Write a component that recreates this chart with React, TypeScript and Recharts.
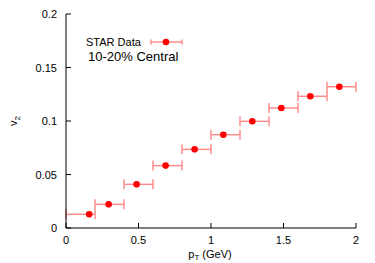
import React from 'react';
import { ScatterChart, Scatter, XAxis, YAxis, ErrorBar } from 'recharts';

// pT bin centres (GeV) and v2
const ptValues = [0.16, 0.294, 0.487, 0.687, 0.887, 1.085, 1.285, 1.485, 1.685, 1.885];
const v2Values = [0.0128, 0.0221, 0.0408, 0.0583, 0.0735, 0.0872, 0.0997, 0.1121, 0.1231, 0.132];
// bin edges -> horizontal error bars
const binLow = [0, 0.2, 0.4, 0.6, 0.8, 1.0, 1.2, 1.4, 1.6, 1.8];
const binHigh = [0.2, 0.4, 0.6, 0.8, 1.0, 1.2, 1.4, 1.6, 1.8, 2.0];

const xTicks = [0, 0.5, 1, 1.5, 2];
const yTicks = [0, 0.05, 0.1, 0.15, 0.2];

const FONT = '"Liberation Sans", Arial, sans-serif';
const RED = '#ff0000';
const ERR = '#ff8c8c';

const points = ptValues.map((x, i) => ({
    x,
    y: v2Values[i],
    xErr: [x - binLow[i], binHigh[i] - x],
}));

// gnuplot-style ticks: marks point inward, labels outside
const BottomTick = (props: any) => {
    const { x, y, payload } = props;
    return (
        <g>
            <line x1={x} y1={y} x2={x} y2={y - 5} stroke="#000" />
            <text x={x} y={y + 16} textAnchor="middle" fontSize={11} fill="#000" fontFamily={FONT}>
                {String(payload.value)}
            </text>
        </g>
    );
};

const LeftTick = (props: any) => {
    const { x, y, payload } = props;
    return (
        <g>
            <line x1={x} y1={y} x2={x + 5} y2={y} stroke="#000" />
            <text x={x - 9} y={y + 4} textAnchor="end" fontSize={11} fill="#000" fontFamily={FONT}>
                {String(payload.value)}
            </text>
        </g>
    );
};

const TopTick = (props: any) => {
    const { x, y } = props;
    return <line x1={x} y1={y} x2={x} y2={y + 5} stroke="#000" />;
};

const RightTick = (props: any) => {
    const { x, y } = props;
    return <line x1={x} y1={y} x2={x - 5} y2={y} stroke="#000" />;
};

const Dot = (props: any) => <circle cx={props.cx} cy={props.cy} r={3.3} fill={RED} />;

export default function App() {
    return (
        <div style={{ position: 'absolute', left: 0, top: 0, width: 375, height: 263, background: '#fff', fontFamily: FONT }}>
            <ScatterChart width={375} height={263} margin={{ top: 14, right: 19, bottom: 0, left: 0 }}>
                <XAxis
                    xAxisId="b"
                    type="number"
                    dataKey="x"
                    domain={[0, 2]}
                    ticks={xTicks}
                    allowDataOverflow
                    height={35}
                    tickSize={0}
                    tickMargin={0}
                    tickLine={false}
                    axisLine={{ stroke: '#000' }}
                    tick={<BottomTick />}
                    interval={0}
                />
                <XAxis
                    xAxisId="t"
                    orientation="top"
                    type="number"
                    dataKey="x"
                    domain={[0, 2]}
                    ticks={xTicks}
                    allowDataOverflow
                    height={0}
                    tickSize={0}
                    tickMargin={0}
                    tickLine={false}
                    axisLine={{ stroke: '#000' }}
                    tick={<TopTick />}
                    interval={0}
                />
                <YAxis
                    yAxisId="l"
                    type="number"
                    dataKey="y"
                    domain={[0, 0.2]}
                    ticks={yTicks}
                    allowDataOverflow
                    width={66}
                    tickSize={0}
                    tickMargin={0}
                    tickLine={false}
                    axisLine={{ stroke: '#000' }}
                    tick={<LeftTick />}
                    interval={0}
                />
                <YAxis
                    yAxisId="r"
                    orientation="right"
                    type="number"
                    dataKey="y"
                    domain={[0, 0.2]}
                    ticks={yTicks}
                    allowDataOverflow
                    width={0}
                    tickSize={0}
                    tickMargin={0}
                    tickLine={false}
                    axisLine={{ stroke: '#000' }}
                    tick={<RightTick />}
                    interval={0}
                />
                {/* invisible copy so the mirrored axes get the same data */}
                <Scatter data={points} xAxisId="t" yAxisId="r" shape={() => <g />} isAnimationActive={false} />
                <Scatter data={points} xAxisId="b" yAxisId="l" shape={<Dot />} isAnimationActive={false}>
                    <ErrorBar dataKey="xErr" direction="x" width={5} stroke={ERR} strokeWidth={1.5} isAnimationActive={false} />
                </Scatter>
            </ScatterChart>

            {/* axis titles + key, drawn on top */}
            <svg width={375} height={263} style={{ position: 'absolute', left: 0, top: 0, pointerEvents: 'none' }}>
                <text x={0} y={0} transform="translate(17 121) rotate(-90)" textAnchor="middle" fontSize={11} fontFamily={FONT} fill="#000">
                    v<tspan dy={3} fontSize={8}>2</tspan>
                </text>
                <text x={210} y={257.5} textAnchor="middle" fontSize={11} fontFamily={FONT} fill="#000">
                    p<tspan dy={2.5} fontSize={8}>T</tspan><tspan dy={-2.5}> (GeV)</tspan>
                </text>

                <text x={86} y={46} fontSize={11} fontFamily={FONT} fill="#000">STAR Data</text>
                <line x1={151} y1={42} x2={182} y2={42} stroke={ERR} strokeWidth={1.5} />
                <line x1={151} y1={39.5} x2={151} y2={44.5} stroke={ERR} strokeWidth={1.5} />
                <line x1={182} y1={39.5} x2={182} y2={44.5} stroke={ERR} strokeWidth={1.5} />
                <circle cx={166} cy={42} r={3.3} fill={RED} />
                <text x={88} y={61} fontSize={13} fontFamily={FONT} fill="#000">10-20% Central</text>
            </svg>
        </div>
    );
}
